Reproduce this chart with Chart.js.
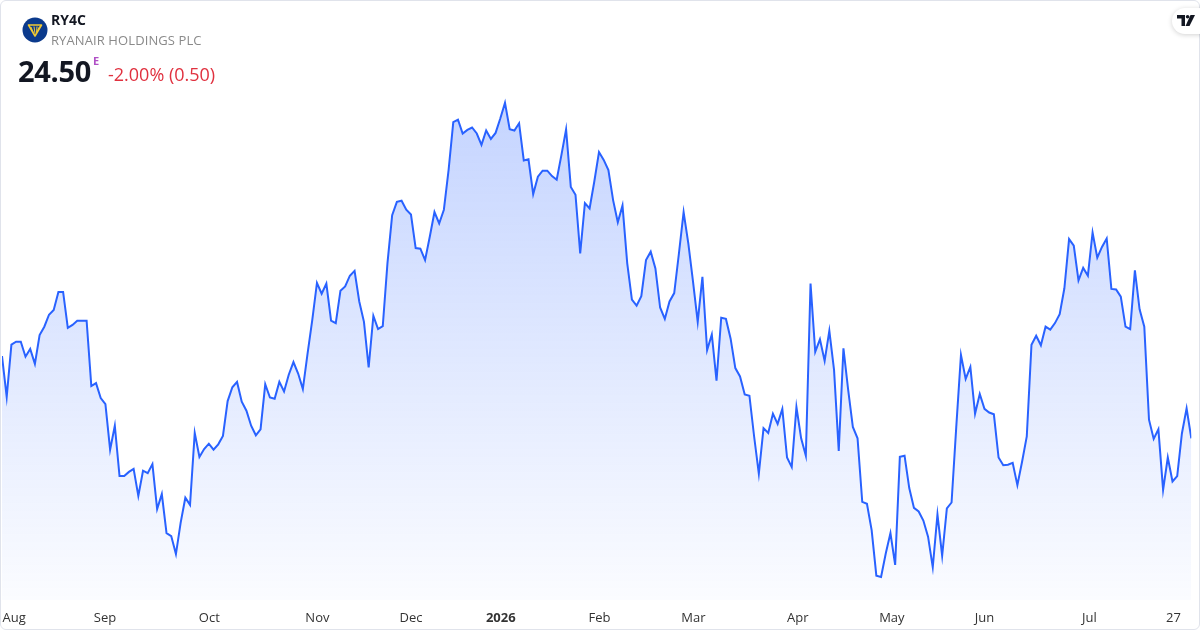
<!DOCTYPE html>
<html>
<head>
<meta charset="utf-8">
<script src="https://cdn.jsdelivr.net/npm/chart.js@4.4.1/dist/chart.umd.min.js"></script>
<style>
  html, body { margin: 0; padding: 0; background: #fff; }
  #wrap { position: relative; width: 1200px; height: 630px; overflow: hidden; font-family: "Open Sans", "Noto Sans", sans-serif; }
  #c { position: absolute; left: 0; top: 0; }
  #card { position: absolute; left: 0; top: 0; width: 1198px; height: 628px; border: 1px solid #e0e3eb; border-radius: 6px; pointer-events: none; }
  #logo { position: absolute; left: 19px; top: 14px; width: 32px; height: 32px; }
  #sym { position: absolute; left: 51px; top: 10px; font-size: 14px; font-weight: 700; color: #131722; line-height: 20px; }
  #name { position: absolute; left: 51px; top: 31px; font-size: 13px; color: #8a8a8a; line-height: 18px; letter-spacing: 0.1px; }
  #price { position: absolute; left: 18px; top: 52px; font-size: 29px; font-weight: 700; color: #131722; line-height: 38px; letter-spacing: -0.3px; }
  #ex { position: absolute; left: 93px; top: 54px; font-size: 11px; font-weight: 700; color: #b04fc6; line-height: 14px; }
  #chg { position: absolute; left: 108px; top: 62px; font-size: 18px; color: #e0313f; line-height: 24px; }
  #tv { position: absolute; left: 1172px; top: 8px; width: 40px; height: 26px; background: #fff; border-radius: 13px; box-shadow: 0 1px 5px rgba(0,0,0,0.18); }
  #tv svg { position: absolute; left: 5px; top: 7px; }
</style>
</head>
<body>
<div id="wrap">
  <canvas id="c" width="1200" height="630"></canvas>
  <div id="card"></div>
  <svg id="logo" viewBox="0 0 32 32">
    <circle cx="16" cy="16" r="12.5" fill="#0b3a8c"/>
    <path d="M9.5 11 L22.5 11 L16 22 Z" fill="none" stroke="#f1c933" stroke-width="1.6" stroke-linejoin="round"/>
    <path d="M12 13 L14 18 M15 12.5 L16 19.5 M18 12.5 L17.5 18.5 M20.5 12.5 L18.5 16.5" stroke="#f1c933" stroke-width="1"/>
  </svg>
  <div id="sym">RY4C</div>
  <div id="name">RYANAIR HOLDINGS PLC</div>
  <div id="price">24.50</div>
  <div id="ex">E</div>
  <div id="chg">-2.00% (0.50)</div>
  <div id="tv">
    <svg width="18" height="11" viewBox="0 0 18 11">
      <path d="M0 0 H8 V11 H4.5 V3.5 H0 Z" fill="#131722"/>
      <circle cx="10.6" cy="1.8" r="1.8" fill="#131722"/>
      <path d="M13.5 0 H18 L12.5 11 H8.5 Z" fill="#131722"/>
    </svg>
  </div>
</div>
<script>
// Daily closing prices (EUR)
const prices = [
  25.87, 25.19, 26.06, 26.11, 26.11, 25.86, 25.99, 25.74, 26.22, 26.36,
  26.56, 26.64, 26.94, 26.94, 26.34, 26.39, 26.46, 26.46, 26.46, 25.37,
  25.42, 25.17, 25.07, 24.31, 24.71, 23.87, 23.87, 23.94, 23.99, 23.54,
  23.96, 23.92, 24.07, 23.32, 23.57, 22.92, 22.87, 22.57, 23.09, 23.51,
  23.39, 24.59, 24.19, 24.32, 24.41, 24.31, 24.40, 24.54, 25.12, 25.35,
  25.44, 25.11, 24.96, 24.71, 24.55, 24.65, 25.40, 25.18, 25.16, 25.44,
  25.28, 25.56, 25.77, 25.58, 25.32, 25.91, 26.47, 27.09, 26.91, 27.08,
  26.46, 26.42, 26.96, 27.03, 27.21, 27.29, 26.78, 26.44, 25.68, 26.54,
  26.32, 26.37, 27.42, 28.22, 28.44, 28.46, 28.31, 28.23, 27.67, 27.66,
  27.47, 27.86, 28.27, 28.08, 28.31, 28.97, 29.77, 29.81, 29.58, 29.64,
  29.68, 29.58, 29.39, 29.63, 29.49, 29.59, 29.83, 30.09, 29.65, 29.63,
  29.75, 29.13, 29.15, 28.57, 28.86, 28.96, 28.96, 28.87, 28.81, 29.22,
  29.65, 28.69, 28.56, 27.58, 28.42, 28.33, 28.78, 29.27, 29.14, 28.97,
  28.47, 28.10, 28.38, 27.42, 26.81, 26.71, 26.87, 27.47, 27.61, 27.33,
  26.68, 26.49, 26.78, 26.92, 27.58, 28.27, 27.75, 27.11, 26.44, 27.19,
  25.97, 26.23, 25.46, 26.51, 26.49, 26.16, 25.67, 25.53, 25.23, 25.21,
  24.53, 23.91, 24.67, 24.59, 24.91, 24.74, 24.99, 24.18, 24.02, 25.02,
  24.50, 24.21, 27.08, 25.94, 26.15, 25.79, 26.29, 25.64, 24.29, 26.00,
  25.31, 24.69, 24.50, 23.44, 23.41, 22.97, 22.21, 22.19, 22.58, 22.92,
  22.39, 24.19, 24.21, 23.67, 23.34, 23.28, 23.13, 22.86, 22.35, 23.23,
  22.54, 23.33, 23.43, 24.69, 25.89, 25.49, 25.69, 24.91, 25.24, 24.99,
  24.93, 24.90, 24.18, 24.05, 24.06, 24.09, 23.72, 24.11, 24.53, 26.06,
  26.21, 26.05, 26.36, 26.31, 26.42, 26.57, 27.00, 27.82, 27.71, 27.13,
  27.34, 27.21, 27.93, 27.51, 27.69, 27.83, 26.99, 26.98, 26.86, 26.36,
  26.32, 27.30, 26.65, 26.36, 24.81, 24.49, 24.65, 23.64, 24.18, 23.78,
  23.87, 24.58, 25.00, 24.50
];
// Axis tick labels and the trading-day index where each sits
const tickLabels = ['Aug', 'Sep', 'Oct', 'Nov', 'Dec', '2026', 'Feb', 'Mar', 'Apr', 'May', 'Jun', 'Jul', '27'];
const tickIndex  = [2.6, 21.9, 44.1, 67.1, 87.0, 106.1, 127.1, 147.1, 169.3, 189.3, 209.0, 231.3, 249.2];

const points = prices.map((p, i) => ({ x: i, y: p }));

const ctx = document.getElementById('c').getContext('2d');
new Chart(ctx, {
  type: 'line',
  data: {
    datasets: [{
      data: points,
      borderColor: '#2962ff',
      borderWidth: 2,
      pointRadius: 0,
      tension: 0,
      fill: 'start',
      backgroundColor: (c) => {
        const ca = c.chart.chartArea;
        if (!ca) return 'rgba(41,98,255,0.15)';
        const g = c.chart.ctx.createLinearGradient(0, ca.top, 0, ca.bottom);
        g.addColorStop(0, 'rgba(41,98,255,0.28)');
        g.addColorStop(1, 'rgba(41,98,255,0.02)');
        return g;
      }
    }]
  },
  options: {
    responsive: false,
    animation: false,
    devicePixelRatio: 1,
    layout: { padding: { left: 2, right: 8.7, top: 90, bottom: 0 } },
    plugins: { legend: { display: false }, tooltip: { enabled: false } },
    scales: {
      x: {
        type: 'linear',
        min: 0,
        max: prices.length - 1,
        grid: { display: false, drawTicks: false },
        border: { display: false },
        afterBuildTicks: (axis) => { axis.ticks = tickIndex.map(v => ({ value: v })); },
        afterFit: (axis) => { axis.height = 30; axis.paddingLeft = 0; axis.paddingRight = 0; },
        ticks: {
          autoSkip: false,
          maxRotation: 0,
          padding: 10.2,
          color: '#333',
          font: (c) => ({ family: '"Open Sans", sans-serif', size: 13, weight: (c.tick && c.tick.label === '2026') ? 'bold' : 'normal' }),
          callback: (v, i) => tickLabels[i]
        }
      },
      y: {
        display: false,
        min: 21.805,
        max: 30.305
      }
    }
  }
});
</script>
</body>
</html>
